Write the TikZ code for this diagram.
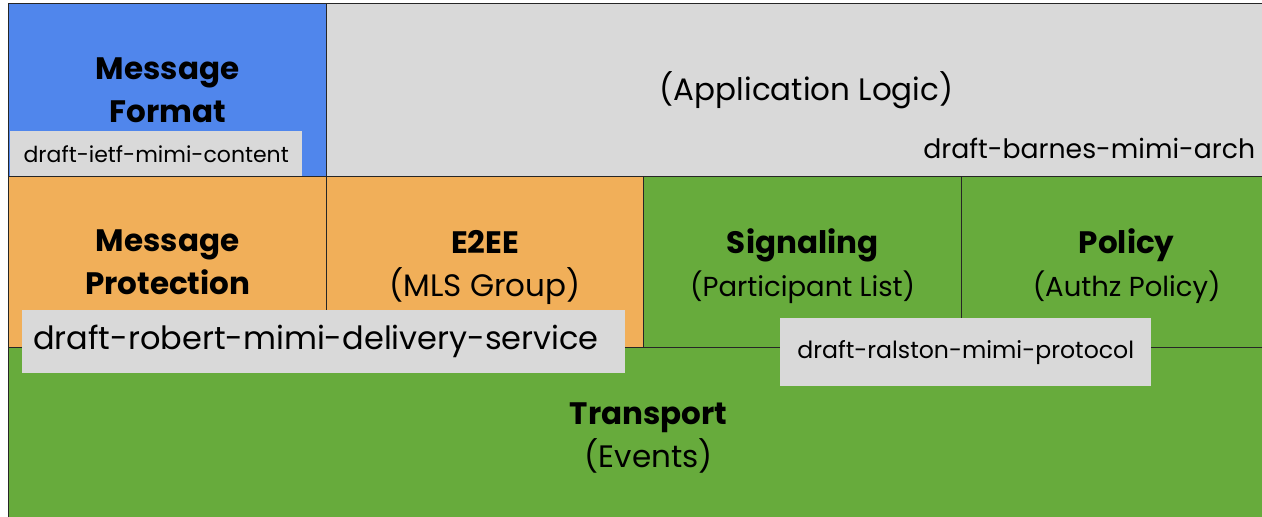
\documentclass[tikz,border=0pt]{standalone}
\usepackage{fontspec}
\setmainfont{Poppins}

\definecolor{formatblue}{HTML}{5086EC}
\definecolor{logicgray}{HTML}{D9D9D9}
\definecolor{secorange}{HTML}{F1AF59}
\definecolor{netgreen}{HTML}{67AB3C}

% extra room above a title line
\newcommand{\titlestrut}{\rule{0pt}{33pt}}

\begin{document}
\begin{tikzpicture}[
    x=1pt, y=-1pt,
    layer/.style={
        draw=black!85,
        line width=1.3pt,
        anchor=north west,
        inner sep=0pt,
        align=center,
        font=\fontsize{31}{43}\selectfont
    },
    draftlabel/.style={
        fill=logicgray,
        anchor=north west,
        inner sep=0pt,
        align=center
    }
]

    \useasboundingbox (0,0) rectangle (1262,517);
    \clip (0,0) rectangle (1262,517);

    % Top row
    \node[layer, fill=formatblue, minimum width=318, minimum height=173]
        (format) at (8,3) {\textbf{Message}\\\textbf{Format}};
    \node[layer, fill=logicgray, minimum width=960, minimum height=173]
        (logic) at (326,3) {(Application Logic)};

    % Middle row
    \node[layer, fill=secorange, minimum width=318, minimum height=171]
        (protection) at (8,176) {\textbf{Message}\\\textbf{Protection}};
    \node[layer, fill=secorange, minimum width=317, minimum height=171]
        (e2ee) at (326,176) {\titlestrut\textbf{E2EE}\\(MLS Group)};
    \node[layer, fill=netgreen, minimum width=318, minimum height=171]
        (signaling) at (643,176)
        {\titlestrut\textbf{Signaling}\\{\fontsize{27.5}{40}\selectfont(Participant List)}};
    \node[layer, fill=netgreen, minimum width=330, minimum height=171]
        (policy) at (961,176)
        {\titlestrut\textbf{Policy}\\{\fontsize{27.5}{40}\selectfont(Authz Policy)}};

    % Bottom row
    \node[layer, fill=netgreen, minimum width=1280, minimum height=180]
        (transport) at (8,347) {\textbf{Transport}\\(Events)};

    % Draft labels
    \node[draftlabel, minimum width=292, minimum height=45,
        font=\fontsize{22}{26}\selectfont]
        (ietf) at (10,131) {draft-ietf-mimi-content};
    \node[draftlabel, minimum width=372, minimum height=56,
        font=\fontsize{26.7}{30}\selectfont]
        (barnes) at (903,120) {draft-barnes-mimi-arch};
    \node[draftlabel, minimum height=63, text width=581, inner xsep=11,
        align=left, font=\fontsize{32}{36}\selectfont]
        (robert) at (22,310) {draft-robert-mimi-delivery-service};
    \node[draftlabel, minimum width=371, minimum height=68,
        font=\fontsize{23.6}{28}\selectfont]
        (ralston) at (780,318) {draft-ralston-mimi-protocol};

\end{tikzpicture}
\end{document}
